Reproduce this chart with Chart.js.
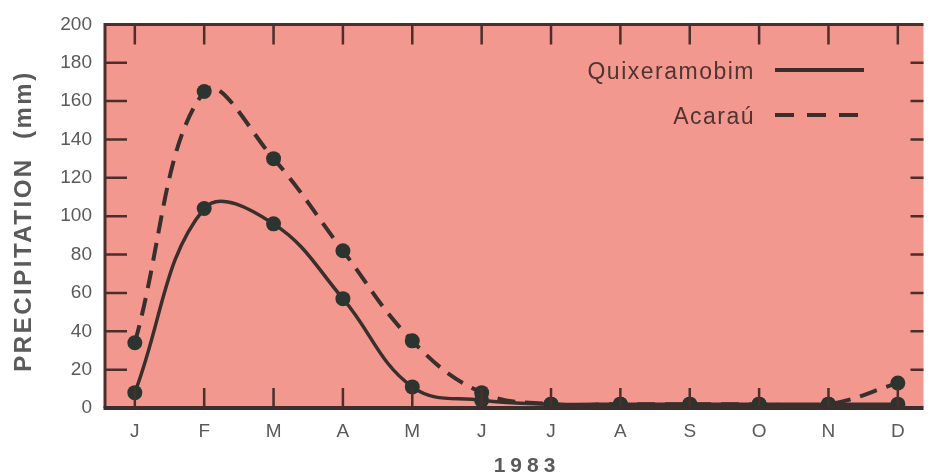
<!doctype html>
<html lang="pt">
<head>
<meta charset="utf-8">
<title>Precipitation 1983</title>
<script src="https://cdn.jsdelivr.net/npm/chart.js@4.4.1/dist/chart.umd.min.js"></script>
<style>
  html, body { margin: 0; padding: 0; background: #fff; }
  #wrap { width: 931px; height: 476px; position: relative; }
</style>
</head>
<body>
<div id="wrap"><canvas id="chart"></canvas></div>
<script>
// data (mm per month, 1983)
var months = ['J', 'F', 'M', 'A', 'M', 'J', 'J', 'A', 'S', 'O', 'N', 'D'];
var quixeramobim = [8, 104, 96, 57, 11, 4, 2, 2, 2, 2, 2, 2];
var acarau = [34, 165, 130, 82, 35, 8, 2, 2, 2, 2, 2, 13];
var yTicks = [0, 20, 40, 60, 80, 100, 120, 140, 160, 180, 200];

var FONT = "'Liberation Sans', Arial, Helvetica, sans-serif";
var bg = '#f3988f';
var ink = '#3a2f2c';
var dot = '#2c3430';
var axisInk = '#4a2f2b';
var grey = '#5a5a5a';

function toPoints(arr) {
  return arr.map(function (v, i) { return { x: i, y: v }; });
}

// background, frame, inward ticks, legend and titles
var decor = {
  id: 'decor',
  beforeDraw: function (chart) {
    var c = chart.ctx, a = chart.chartArea;
    c.save();
    c.fillStyle = bg;
    c.fillRect(a.left, a.top, a.right - a.left, a.bottom - a.top);
    c.restore();
  },
  afterDatasetsDraw: function (chart) {
    var c = chart.ctx, a = chart.chartArea;
    var xs = chart.scales.x, ys = chart.scales.y;
    c.save();
    c.strokeStyle = axisInk;
    c.lineCap = 'butt';
    // ticks
    c.lineWidth = 2.5;
    months.forEach(function (m, i) {
      var px = xs.getPixelForValue(i);
      c.beginPath();
      c.moveTo(px, a.top); c.lineTo(px, a.top + 20);
      c.moveTo(px, a.bottom); c.lineTo(px, a.bottom - 20);
      c.stroke();
    });
    yTicks.forEach(function (t) {
      if (t === 0 || t === 200) return;
      var py = ys.getPixelForValue(t);
      c.beginPath();
      c.moveTo(a.left, py); c.lineTo(a.left + 22, py);
      c.moveTo(a.right, py); c.lineTo(a.right - 13, py);
      c.stroke();
    });
    // frame
    c.lineWidth = 3;
    c.beginPath();
    c.moveTo(a.left, a.bottom); c.lineTo(a.left, a.top - 1.5);
    c.moveTo(a.left - 1.5, a.top); c.lineTo(a.right, a.top);
    c.stroke();
    c.strokeStyle = ink;
    c.lineWidth = 4;
    c.beginPath();
    c.moveTo(a.left - 1.5, a.bottom); c.lineTo(a.right, a.bottom);
    c.stroke();
    c.restore();
  },
  afterDraw: function (chart) {
    var c = chart.ctx;
    c.save();
    // legend
    c.font = '23px ' + FONT;
    c.fillStyle = '#4f3431';
    c.textAlign = 'right';
    c.textBaseline = 'middle';
    c.letterSpacing = '1.5px';
    var rows = [{ y: 72, ds: chart.data.datasets[0] }, { y: 117, ds: chart.data.datasets[1] }];
    rows.forEach(function (r) {
      c.fillText(r.ds.label, 755, r.y + 1);
      c.save();
      c.strokeStyle = ink;
      c.lineWidth = 4;
      c.setLineDash(r.ds.borderDash && r.ds.borderDash.length ? [19, 13] : []);
      c.beginPath();
      c.moveTo(775, r.y - 2); c.lineTo(864, r.y - 2);
      c.stroke();
      c.restore();
    });
    // y title
    c.save();
    c.font = 'bold 24px ' + FONT;
    c.fillStyle = grey;
    c.textAlign = 'center';
    c.letterSpacing = '2.5px';
    c.translate(24, 221);
    c.rotate(-Math.PI / 2);
    c.fillText('PRECIPITATION  (mm)', 0, 0);
    c.restore();
    // x title
    c.font = 'bold 21px ' + FONT;
    c.fillStyle = grey;
    c.textAlign = 'center';
    c.letterSpacing = '5px';
    c.fillText('1983', 527, 466);
    c.restore();
  }
};

new Chart(document.getElementById('chart').getContext('2d'), {
  type: 'line',
  data: {
    datasets: [{
      label: 'Quixeramobim',
      data: toPoints(quixeramobim),
      borderColor: ink,
      borderWidth: 3.5,
      tension: 0.4,
      pointRadius: 7.5,
      pointBackgroundColor: dot,
      pointBorderWidth: 0
    }, {
      label: 'Acaraú',
      data: toPoints(acarau),
      borderColor: ink,
      borderWidth: 4,
      borderDash: [18, 10],
      tension: 0.4,
      pointRadius: 7.5,
      pointBackgroundColor: dot,
      pointBorderWidth: 0
    }]
  },
  options: {
    responsive: true,
    maintainAspectRatio: false,
    animation: false,
    layout: { padding: { top: 22, right: 0, bottom: 0, left: 0 } },
    plugins: {
      legend: { display: false },
      tooltip: { enabled: false }
    },
    scales: {
      x: {
        type: 'linear',
        min: -0.43,
        max: 11.37,
        afterBuildTicks: function (scale) {
          scale.ticks = months.map(function (m, i) { return { value: i }; });
        },
        afterFit: function (scale) { scale.height = 68; },
        grid: { display: false, drawTicks: false, tickLength: 0 },
        border: { display: false },
        ticks: {
          padding: 12,
          autoSkip: false,
          maxRotation: 0,
          color: grey,
          font: { family: FONT, size: 19 },
          callback: function (v) { return months[v]; }
        }
      },
      y: {
        min: 0,
        max: 200,
        afterBuildTicks: function (scale) {
          scale.ticks = yTicks.map(function (t) { return { value: t }; });
        },
        afterFit: function (scale) { scale.width = 105; },
        grid: { display: false, drawTicks: false, tickLength: 0 },
        border: { display: false },
        ticks: {
          padding: 13,
          color: grey,
          font: { family: FONT, size: 19 }
        }
      }
    }
  },
  plugins: [decor]
});
</script>
</body>
</html>
